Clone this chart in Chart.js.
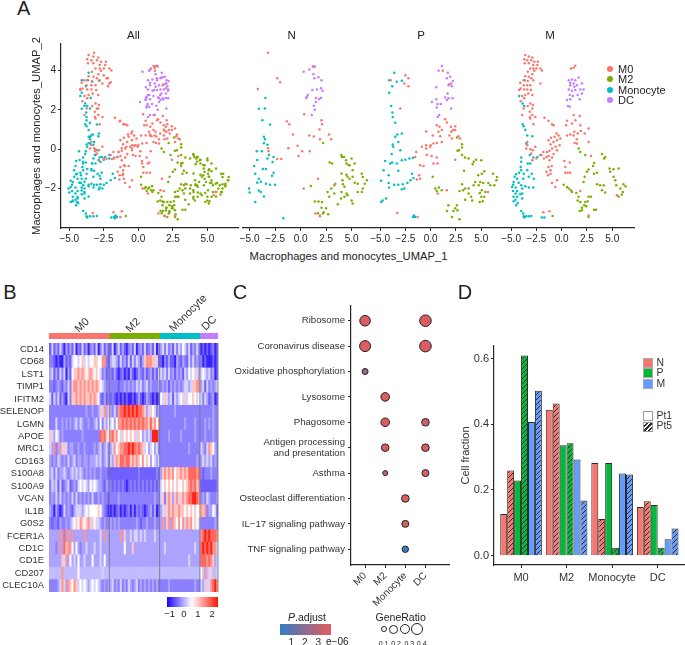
<!DOCTYPE html>
<html lang="en">
<head>
<meta charset="UTF-8">
<title>Macrophages and monocytes</title>
<script src="https://cdn.jsdelivr.net/npm/chart.js"></script>
<style>
  html, body { margin: 0; padding: 0; background: #fff; }
  #page { position: relative; width: 685px; height: 645px; overflow: hidden; font-family: "Liberation Sans", Arial, sans-serif; color: #222; }
  canvas { position: absolute; }
  .lbl { position: absolute; white-space: nowrap; line-height: 1; transform: translate(-50%, -50%); }
  .box { position: absolute; box-sizing: border-box; }
</style>
</head>
<body>
<div id="page"></div>
<script>
// --- Panel A: UMAP points per sample and cluster ---
const nM0 = [[-3.2,4.9],[-2.3,3.6],[-2,3.4],[-4.2,3.05],[-1.35,1.42],[-1.1,1.27],[-.75,.75],[-1.2,.05],[-.3,.17],[.15,-.1],[-.2,-.35],[.9,-.1],[-3.15,-.1],[-3.2,.05],[-2.3,-.5],[-1.9,-.5],[.3,-2],[.35,1.78],[2.05,1.47],[1.85,1],[1.9,.5],[.85,.7],[1.3,.65],[2.8,.75],[3,.5],[2.1,1.27],[1.25,4.2],[1.45,-3.27],[1.9,-3.37],[3.4,-1.76],[1.7,-1.5],[1.9,-3.4]];
const nM2 = [[2.2,.32],[1,-1.87],[2.85,-.68],[3.1,-.73],[4,-.3],[4.25,-.4],[4.5,-.73],[4.7,-.8],[4,-1.23],[4.5,-1.3],[4.8,-1.5],[4.15,-1.78],[4.3,-1.9],[3.3,-1.83],[3,-2],[2.65,-2.17],[2.8,-2.42],[3.3,-2.25],[4,-2.17],[4.5,-2.25],[3.65,-2.8],[4.3,-2.42],[1.4,-2.65],[1.75,-2.65],[2.1,-2.68],[2.05,-2.97],[2.5,-3],[2.25,-3.2],[2.7,-3.3],[1.7,-3.25],[2.2,-3.27],[4.05,-.39],[4.45,-.56],[5,-.47],[5.3,-.73],[4.8,-.81],[5.1,-1.07],[6,-1.24],[6.1,-1.41],[6.5,-1.58],[6.3,-1.75],[5.6,-1.75],[5.3,-1.7],[5.1,-1.4],[4.6,-1.4],[6.1,-2],[6,-2.17],[5.6,-2.17],[4.6,-2.34],[5,-2.6],[5.1,-2.76],[3.97,-2.5],[4.1,-1.58]];
const nMono = [[-3.45,2.6],[-4.1,2.05],[-3.5,2.07],[-3.75,1.47],[-3,1.25],[-3.6,.63],[-3.5,.5],[-3.6,.3],[-3.25,.23],[-4.3,-.1],[-3.8,-.1],[-3.1,-.3],[-2.65,-.4],[-3.25,-.47],[-2.75,-.65],[-4.55,-.85],[-4.25,-.55],[-3.7,-1],[-3.4,-1],[-4.45,-1.25],[-2.65,-1.2],[-2.8,-1.35],[-4.1,-1.5],[-4.25,-1.7],[-3.9,-1.65],[-3.4,-1.75],[-2.5,-1.8],[-5.05,-2],[-5,-2.2],[-4.1,-2.1],[-3.9,-2.17],[-3.6,-2.4],[-4.45,-2.68],[-1.7,-3.5],[-3,-1.8]];
const nDC = [[.3,3.93],[.85,4.05],[1.2,4.2],[1.4,4.2],[1.25,3.8],[1.35,3.6],[1.75,3.65],[2.05,3.5],[1.15,3],[1.6,3.03],[2,3.1],[2.15,2.97],[.7,2.75],[.55,2.6],[1.5,2.6],[1.8,2.55],[2,2.6],[1.5,2.4],[1.3,2.2],[1.4,2],[1.1,1.73],[.6,2.65]];

const pM0 = [[-2.5,3.76],[-3.95,3.5],[-2.2,3.6],[-2.6,3.34],[-2.2,3.2],[-3,2.07],[-3.3,-3.24],[-1.3,-3.44],[-.45,.9],[.2,.7],[.6,1.22],[.87,1.14],[1.43,1.52],[1.6,1.36],[1.1,.97],[.77,.88],[.95,.66],[.6,.32],[.28,.29],[0,.2],[1.1,.37],[2,1.14],[2.43,1.17],[2.2,.97],[1.85,.7],[2.1,.54],[2.43,.97],[2.75,.66],[2.9,.54],[2.03,.88],[-.45,.2],[-.87,.12],[-.45,.03],[-.05,.12],[-1.53,-.39],[-1.43,-.14],[-.38,-.3],[.1,-.34],[.6,-.42],[.68,-.73],[.28,-.73],[2.43,-.53],[-1.04,-.81],[-.7,-.85],[-1.14,-1.32],[-1.04,-1.5],[-1.37,-1.54],[1.2,3.98],[1.83,3.3],[1.6,-2.08],[.7,-2.25],[5.66,-2.17]];
const pM2 = [[2.6,.59],[3.1,.25],[3.1,.08],[2.65,-.08],[2.8,-.05],[3.1,-.3],[3.4,-.42],[3.75,-.47],[4.5,-.53],[5,-.56],[4.25,-.64],[4.15,-.76],[3.3,-1.1],[4.7,-1.32],[5.3,-1.12],[5.05,-1.24],[6.15,-1.24],[6.55,-1.41],[6.5,-1.58],[4.4,-1.66],[4.9,-1.66],[5.2,-1.71],[5.7,-1.71],[4.25,-1.83],[4.75,-1.83],[5.9,-1.83],[6.3,-1.83],[3.1,-1.78],[3.4,-2],[3.75,-2],[2.85,-2.12],[3.2,-2.08],[3.75,-2.25],[4,-2.42],[3.4,-2.56],[4.1,-2.6],[4.85,-2.22],[5.05,-2.08],[5.4,-2.17],[5,-2.42],[5.3,-2.42],[4.85,-2.68],[5.15,-2.64],[.45,-2],[.8,-1.95],[1.1,-2.08],[.2,-1.4],[.6,-2.12],[1.75,-2.85],[2.6,-2.85],[2.43,-3],[2.65,-3.1],[2.25,-3.14],[1.6,-3.14],[2.85,-3.56],[2.1,-3.44]];
const pMono = [[-3.6,3.88],[-4.1,3.5],[-3.8,3.2],[-3.35,3.42],[-2.85,3.47],[-4.1,2.86],[-3.9,2.19],[-3.78,1.86],[-3.75,1.64],[-3.5,1.34],[-3.5,.63],[-3.3,.75],[-2.85,.8],[-3.75,.24],[-3.7,.12],[-3.2,.37],[-3,-.05],[-3.85,-.25],[-4,-.73],[-3.8,-.68],[-4.5,-.6],[-3.35,-.73],[-2.85,-.56],[-2.5,-.53],[-1.75,-.44],[-2.1,-.47],[-4.65,-1.07],[-4.15,-1.32],[-3.2,-1.1],[-4.9,-1.6],[-4.15,-1.71],[-4.1,-1.95],[-3.6,-1.8],[-3.2,-1.8],[-2.75,-1.78],[-2.85,-2.03],[-2.6,-2],[-2.3,-1.71],[-2,-1.58],[-1.7,-1.46],[-1.85,-1.24],[-4.4,-2.5],[-4.75,-2.6],[-4.9,-2.68],[-1.65,-3.36],[-1.75,-3.44],[-1.55,-3.44]];
const pDC = [[.78,3.98],[1.1,4.22],[1.7,3.88],[1.93,3.68],[1.6,3.6],[2.2,3.46],[2.03,3.34],[1.77,3.25],[2.1,3.2],[.55,3.14],[1.67,2.83],[1.43,2.63],[1.77,2.58],[2.16,2.58],[1.6,2.5],[.12,2.4],[.55,2.53],[.68,2.29],[1,2.29],[.6,2.12],[2.03,2.07],[.84,1.73],[.7,1.64]];

const mM0 = [[-3.6,4.78],[-3.25,4.7],[-2.9,4.66],[-3.7,4.56],[-3.4,4.52],[-3,4.52],[-2.7,4.44],[-2.35,4.44],[-3.65,4.36],[-3.25,4.36],[-2.8,4.27],[-2.4,4.27],[-2.1,4.1],[-1.95,4],[-2.5,4.1],[-2.8,4.1],[-3.1,4.1],[-2.7,3.98],[-3.35,3.93],[-2.9,3.8],[-3.25,3.68],[-3.6,3.7],[-3,3.6],[-2.8,3.5],[-3.75,3.5],[-3.35,3.46],[-4.1,3.37],[-3.75,3.25],[-3.4,3.25],[-3.1,3.25],[-2.1,3.34],[-4.05,3.08],[-3.7,3.03],[-3.4,3.03],[-3.05,3],[-4.2,3],[-3.3,2.83],[-3.6,2.75],[-2.9,2.75],[-3.9,2.7],[-4.05,2.44],[-3.7,2.58],[-3.1,2.32],[-2.85,2.24],[-3.35,2.19],[-2.9,2.07],[-3.75,2.07],[-3.15,1.9],[-2.9,1.73],[-2.6,1.64],[-3.9,1.73],[-3.1,1.56],[-2.8,1.27],[-3.15,1.64],
  [-1.7,1.6],[-1.3,1.44],[-.95,1.27],[-.8,1.22],[-.5,.8],[-.3,.7],[-.7,.63],[-1.05,.58],[-1.3,.46],[-.13,.54],[-.46,.46],[-.8,.37],[-1.1,.25],[-.2,.2],[-.6,.12],[-.95,.03],[-.46,-.05],[-1.2,-.08],[-1.45,-.14],[-1.8,-.14],[-2,-.3],[-.8,-.25],[-1.3,-.34],[-1.5,-.4],[-.95,-.42],[-1.2,-.56],[-1.75,-.47],[-.98,-.85],[-1.3,-.9],[-1.1,-1.07],[-1.5,-1.15],[-1.35,-1.32],[-.46,-1.58],[-.95,-1.71],[-.63,-1.92],[-1.1,-1.24],
  [.53,1.44],[1.18,1.73],[1.78,1.68],[1.35,1.47],[.43,1.22],[1.02,1.3],[1.84,1.22],[2.66,1.05],[1.9,.93],[1.25,.88],[1.58,.8],[.53,.7],[1.18,.7],[2.27,.8],[1.5,.5],[1.28,.32],[2.66,.37],[1.5,.29],[.85,.75],[2.9,-.34],[.26,-.6],[.8,-.68],[.36,-.9],[.6,-1.2],[.85,-1.2],[.36,-1.2],[.92,4.1],[1.18,4.13],[1.35,4.24],[-3.4,.2],[-3.5,.03],[-3.1,0],[-2.6,.12],[-2.85,-.05],[-3,-.22],[-2.5,-.47],[-2.9,-.56],[-3.4,.37],[-1.8,-3.2],[-1.2,-3.15],[2.66,-3.36],[1.84,-2.12],[5.46,-2.34]];
const mM2 = [[1.68,.03],[2.33,-.3],[1.84,-.14],[3.98,-.25],[4.3,-.39],[4.2,-.47],[3.2,-.7],[3.1,-.85],[2.66,-1.03],[2.5,-1.15],[3.2,-1.24],[3.5,-1.2],[2.27,-1.4],[2.17,-1.66],[4.74,-.98],[5.13,-1.02],[5.63,-.98],[4.8,-1.15],[5.13,-1.4],[5.3,-1.58],[6.1,-1.78],[6.3,-1.88],[3.5,-1.78],[3.8,-1.83],[4.15,-1.83],[3.98,-2.08],[4.3,-2.2],[5.4,-1.83],[5.8,-2],[6.05,-2.17],[5.95,-2.3],[5.63,-2.4],[.2,-1.8],[.53,-1.92],[.7,-2],[.92,-2.08],[1.02,-2.17],[1.45,-2.22],[1.68,-2.42],[1.58,-2.6],[1.84,-2.68],[2.33,-2.68],[2.57,-2.64],[2.24,-2.85],[2.43,-2.9],[2,-2.97],[1.78,-3.14],[2,-3.1],[3.2,-3.07],[3.4,-3.07],[2.66,-3.44],[-.9,-3.39],[2.66,-2.42],[2.9,-2.42]];
const mMono = [[-3.65,3.5],[-4.2,2.7],[-3.85,2.32],[-3.7,2.19],[-3.85,1.27],[-3.75,1.17],[-3.6,.97],[-3.4,.7],[-2.9,.66],[-3.5,.29],[-4,-.42],[-4,-.64],[-3.15,-.3],[-2.8,-.42],[-2.4,-.39],[-2.1,-.3],[-3.35,-.73],[-3.1,-.73],[-4.05,-.9],[-4,-1.07],[-4.2,-1.2],[-4.5,-1.27],[-4.65,-1.4],[-4.4,-1.5],[-4.75,-1.66],[-4.25,-1.7],[-4.9,-1.92],[-4.55,-1.95],[-4.8,-2.12],[-4.4,-2.12],[-3.9,-2],[-3.6,-1.88],[-3.25,-1.95],[-2.8,-1.95],[-2.75,-1.5],[-3.25,-1.4],[-2.95,-1.24],[-3.4,-1.07],[-3.75,-1.24],[-3.8,-1.5],[-4,-1.83],[-4.55,-2.25],[-4.75,-2.42],[-4.4,-2.42],[-4.1,-2.29],[-4.55,-2.56],[-4.35,-2.73],[-4.5,-2.85],[-4.75,-2.64],[-3.9,-2.25],[-4,-3.14],[-3.8,-3.27],[-3.75,-3.4],[-3.5,-3.4],[-3.25,-3.4],[-3,-3.39],[-3.7,-3.47],[-1.95,-3.47],[-1.7,-3.47],[-4.8,-1.8],[-3.9,-2.5]];
const mDC = [[.7,3.5],[1.02,3.54],[1.35,3.5],[1.68,3.64],[.85,3.37],[1.18,3.34],[1.5,3.25],[2,3.34],[.7,3.03],[1.02,2.97],[1.35,3],[1.84,3.03],[2.17,3.03],[.8,2.75],[1.1,2.7],[1.58,2.75],[2,2.83],[.53,2.5],[.85,2.53],[1.78,2.54],[.62,2.19],[.8,2.15],[.85,3.25],[1.25,3.17]];

const clusterNames = ['M0', 'M2', 'Monocyte', 'DC'];
const clusterColors = ['#F8766D', '#7CAE00', '#00BFC4', '#C77CFF'];
const umapTicksY = [-2, 0, 2, 4];

// --- Panel B: heatmap, one string per gene, one digit per column group ---
const genes = ['CD14','CD68','LST1','TIMP1','IFITM2','SELENOP','LGMN','APOE','MRC1','CD163','S100A8','S100A9','VCAN','IL1B','G0S2','FCER1A','CD1C','CD1E','CD207','CLEC10A'];
const heatLevels = { 0:-.95, 1:-.55, 2:-.32, 3:-.08, a:.08, 4:.25, 5:.55, 6:1.0, 7:1.4, 8:1.75, 9:2.3 };
const groupSizes = [30, 25, 20, 9];
const heatRows = [
  '1413142031 3140214130 2314024131 1402413102 3140231412 31402 3424231424 3542413242 010101201',
  '2210100312 1455456454 5566557721 3443142314 1424313677 76641 1021311032 1321424232 201000101',
  '3413142403 1566767656 7656542312 2131012010 3101321312 31314 4342423132 3143545463 454342301',
  '2212321324 2677676767 6767654322 2222122323 2324342342 32223 2323132323 2344346677 341423234',
  '4142413104 2667676766 7676521312 1210101010 0101310132 10101 5464341434 5464556545 424312301',
  '2222222222 2222222232 2322364736 3242788989 8989887634 65423 2222222322 2222222222 222222322',
  '2224223232 3234243223 2234252435 4535778787 8787878776 86757 2222222222 2232222322 223232322',
  '6435423222 2222223222 2222287865 7867546565 6564653434 39992 2222322222 3222222322 223222322',
  '4372374642 3322322322 2232342342 3475677889 8987876453 45342 2222222222 2222322222 432476532',
  '3232432324 2342332332 3334342342 4367688788 6767657565 35434 2222222222 2222222232 343434232',
  '3424233432 3434343232 3232232221 1111111111 1111211111 11121 3676767566 7676888878 212223222',
  '2434141234 1232454543 5454332132 2121212101 2121212121 21212 4565656565 5656787867 111111112',
  '2324242323 2424232323 2422323221 2222322222 2222222222 22322 4626763674 6767889987 232432223',
  '3203101423 2134443454 5555653210 0101201012 0202121012 31301 3464767667 6656565655 767233541',
  '2122132232 3456576567 4654432322 3232322222 2223212232 22322 3736737657 5747675654 222222232',
  '3333373837 3733333733 3333343733 3333373633 4344343433 33433 3333333333 3333333333 789898887',
  '3332373867 7535323343 3343343333 3333333533 3633333333 33333 3343333333 3333333433 898989774',
  '3333336473 5343533433 3533343533 3333333333 3333333333 33333 3333333333 3333433333 888787634',
  'aaaaaa7aaa aaaa5aaaaa aaaaaa4aaa aaaaaaaaaa aaaaaaaaaa aaaaa aaaaaaaaaa aaaaaaaaaa 5a7a46aa4',
  '2222347637 6576454543 4545432323 3423242324 3234232323 23232 2222322222 2222222322 434647897'
];
const heatTicks = [-1, 0, 1, 2];

// --- Panel C: pathway dot plot ---
const terms = ['Ribosome','Coronavirus disease','Oxidative phosphorylation','Lysosome','Phagosome',['Antigen processing','and presentation'],'Asthma','Osteoclast differentiation','IL\u221217 signaling pathway','TNF signaling pathway'];
const dotTerm    = [0, 0, 1, 1, 2, 3, 4, 4, 5, 5, 6, 6, 7, 8, 9];
const dotCluster = [0, 3, 0, 3, 0, 1, 1, 3, 1, 3, 1, 3, 2, 2, 2];
const dotRatio   = [.33, .38, .35, .38, .1, .23, .23, .18, .18, .18, .05, .15, .18, .15, .12];
const dotPadjust = [3.8, 3.8, 3.8, 3.8, 2.4, 3.7, 3.7, 3.6, 3.7, 3.7, 3.5, 3.7, 3.7, 3.6, .3];
const ratioLegend = [.1, .2, .3, .4];

// --- Panel D: cell fractions ---
const fractionCats = ['M0', 'M2', 'Monocyte', 'DC'];
const fracNPt1 = [.127, .444, .282, .148];
const fracNPt5 = [.259, .463, .112, .166];
const fracPPt1 = [.229, .336, .282, .154];
const fracPPt5 = [.609, .342, .024, .024];
const fracMPt1 = [.407, .293, .250, .050];
const fracMPt5 = [.502, .168, .247, .083];
const sampleColors = ['#F8766D', '#00BA38', '#619CFF'];

Chart.defaults.font.family = '"Liberation Sans", Arial, sans-serif';
Chart.defaults.animation = false;
Chart.defaults.responsive = false;
Chart.defaults.plugins.legend.display = false;
Chart.defaults.plugins.tooltip.enabled = false;

const page = document.getElementById('page');
const INK = '#262626';

function label(text, x, y, size, extra) {
  const d = document.createElement('div');
  d.className = 'lbl';
  d.innerHTML = text;
  d.style.left = x + 'px';
  d.style.top = y + 'px';
  d.style.fontSize = size + 'px';
  if (extra) Object.assign(d.style, extra);
  page.appendChild(d);
  return d;
}

function box(x, y, w, h, style) {
  const d = document.createElement('div');
  d.className = 'box';
  d.style.left = x + 'px';
  d.style.top = y + 'px';
  d.style.width = w + 'px';
  d.style.height = h + 'px';
  Object.assign(d.style, style);
  page.appendChild(d);
}

// put a chart so its plot area lands on a given rectangle of the page
function mount(area, m, config) {
  const c = document.createElement('canvas');
  const w = Math.round(area.r - area.l + m.l + m.r);
  const h = Math.round(area.b - area.t + m.t + m.b);
  c.width = w;
  c.height = h;
  c.style.left = (area.l - m.l) + 'px';
  c.style.top = (area.t - m.t) + 'px';
  page.appendChild(c);
  const sc = config.options.scales;
  const yShown = sc.y.display !== false;
  const xShown = sc.x.display !== false;
  if (yShown) sc.y.afterFit = s => { s.width = m.l; };
  if (xShown) sc.x.afterFit = s => { s.height = m.b; };
  config.options.layout = { padding: { left: yShown ? 0 : m.l, right: m.r, top: m.t, bottom: xShown ? 0 : m.b } };
  return new Chart(c, config);
}

function axisBase(size) {
  return {
    border: { display: true, color: INK, width: 1.2 },
    grid: { drawOnChartArea: false, drawTicks: true, tickLength: 3, tickColor: INK, tickWidth: 1 },
    ticks: { color: INK, font: { size: size }, padding: 2, autoSkip: false, maxRotation: 0, minRotation: 0, includeBounds: false }
  };
}

const fmtMinus = v => String(v).replace('-', '\u2212');

// --- Panel A ---
function umapPanel(area, xMin, xMax, sets, showY) {
  const xAxis = axisBase(10);
  xAxis.min = xMin;
  xAxis.max = xMax;
  xAxis.afterBuildTicks = s => { s.ticks = [-5, -2.5, 0, 2.5, 5].map(v => ({ value: v })); };
  xAxis.ticks.callback = v => fmtMinus(v.toFixed(1));
  xAxis.type = 'linear';
  const yAxis = axisBase(10);
  yAxis.type = 'linear';
  yAxis.min = -4;
  yAxis.max = 5.34;
  if (showY) {
    yAxis.afterBuildTicks = s => { s.ticks = umapTicksY.map(v => ({ value: v })); };
    yAxis.ticks.callback = v => fmtMinus(v);
    yAxis.title = { display: true, text: 'Macrophages and monocytes_UMAP_2', color: INK, font: { size: 11.2 }, padding: 0 };
  } else {
    yAxis.display = false;
  }
  mount(area, { l: showY ? 31 : 14, r: 14, t: 14, b: 22 }, {
    type: 'scatter',
    data: { datasets: sets.map((pts, i) => ({
      data: pts.map(p => ({ x: p[0], y: p[1] })),
      backgroundColor: clusterColors[i],
      pointRadius: 1.25,
      pointBorderWidth: 0
    })) },
    options: { scales: { x: xAxis, y: yAxis } }
  });
}

const allM0 = nM0.concat(pM0, mM0);
const allM2 = nM2.concat(pM2, mM2);
const allMono = nMono.concat(pMono, mMono);
const allDC = nDC.concat(pDC, mDC);

umapPanel({ l: 61, r: 238, t: 44, b: 227.7 }, -5.6, 7.22, [allM0, allM2, allMono, allDC], true);
umapPanel({ l: 242.5, r: 372, t: 44, b: 227.7 }, -5.65, 7.1, [nM0, nM2, nMono, nDC], false);
umapPanel({ l: 374, r: 502.7, t: 44, b: 227.7 }, -5.6, 7.15, [pM0, pM2, pMono, pDC], false);
umapPanel({ l: 505, r: 634, t: 44, b: 227.7 }, -5.6, 7.15, [mM0, mM2, mMono, mDC], false);

label('A', 23.7, 8, 20);
label('All', 133.5, 36, 11.5);
label('N', 291.7, 36, 11.5);
label('P', 421, 36, 11.5);
label('M', 550, 36, 11.5);
label('Macrophages and monocytes_UMAP_1', 348.5, 256.5, 11.2);

clusterNames.forEach((n, i) => {
  const y = 69 + i * 10.4;
  box(607, y - 3, 6, 6, { background: clusterColors[i], borderRadius: '50%' });
  label(n, 618, y, 11, { transform: 'translate(0,-50%)' });
});

// --- Panel B ---
const BLUE = [24, 0, 255], WHITE = [255, 255, 255], RED = [255, 16, 0];
function heatColor(v) {
  let a = BLUE, b = WHITE, t = (v + 1.2) / 1.75;
  if (v > .55) { a = WHITE; b = RED; t = (v - .55) / 1.9; }
  t = Math.max(0, Math.min(1, t));
  return 'rgb(' + a.map((c, i) => Math.round(c + (b[i] - c) * t)).join(',') + ')';
}

const heatCols = heatRows.map(r => r.replace(/ /g, '').split('').map(ch => heatLevels[ch]));
const nCols = groupSizes.reduce((a, b) => a + b, 0);

const heatDatasets = [];
for (let c = 0; c < nCols; c++) {
  heatDatasets.push({
    data: genes.map(() => 1),
    backgroundColor: heatCols.map(row => heatColor(row[c] === undefined ? -.32 : row[c])),
    barPercentage: 1,
    categoryPercentage: 1,
    borderWidth: 0
  });
}

const groupLines = {
  id: 'groupLines',
  afterDatasetsDraw(chart) {
    const { ctx, chartArea, scales } = chart;
    let sum = 0;
    ctx.save();
    ctx.strokeStyle = 'rgba(120,120,120,.85)';
    ctx.lineWidth = 1;
    groupSizes.forEach(g => {
      sum += g;
      const x = scales.x.getPixelForValue(sum);
      ctx.beginPath();
      ctx.moveTo(x, chartArea.top);
      ctx.lineTo(x, chartArea.bottom);
      ctx.stroke();
    });
    ctx.restore();
  }
};

mount({ l: 49.3, r: 218, t: 342.7, b: 591.7 }, { l: 56, r: 2, t: 14, b: 14 }, {
  type: 'bar',
  data: { labels: genes, datasets: heatDatasets },
  options: {
    indexAxis: 'y',
    scales: {
      x: { display: false, stacked: true, min: 0, max: nCols },
      y: {
        stacked: true,
        border: { display: false },
        grid: { display: false, drawTicks: false },
        ticks: { color: '#333', font: { size: 9.4 }, padding: 5, autoSkip: false }
      }
    }
  },
  plugins: [groupLines]
});

// group bar on top of the heatmap
mount({ l: 49.3, r: 218, t: 332.7, b: 338.3 }, { l: 2, r: 2, t: 1, b: 1 }, {
  type: 'bar',
  data: {
    labels: [''],
    datasets: groupSizes.map((g, i) => ({ data: [g], backgroundColor: clusterColors[i], barPercentage: 1, categoryPercentage: 1, borderWidth: 0 }))
  },
  options: {
    indexAxis: 'y',
    scales: {
      x: { display: false, stacked: true, min: 0, max: nCols },
      y: { display: false, stacked: true }
    }
  }
});

label('B', 10, 291.7, 20);
const rot = { transform: 'translate(-50%,-50%) rotate(-45deg)', color: '#333' };
label('M0', 81.7, 325, 11, rot);
label('M2', 133, 325, 11, rot);
label('Monocyte', 187.7, 313, 11, rot);
label('DC', 209, 323, 11, rot);

// gradient legend bars for B and C
function colorBar(area, min, max, ticks, colorAt, size) {
  mount(area, { l: 8, r: 8, t: 1, b: 14 }, {
    type: 'bar',
    data: {
      labels: [''],
      datasets: [{
        data: [[min, max]],
        barPercentage: 1,
        categoryPercentage: 1,
        borderWidth: 0,
        backgroundColor(ctx) {
          const ca = ctx.chart.chartArea;
          if (!ca) return '#888';
          const g = ctx.chart.ctx.createLinearGradient(ca.left, 0, ca.right, 0);
          for (let i = 0; i <= 20; i++) g.addColorStop(i / 20, colorAt(min + (max - min) * i / 20));
          return g;
        }
      }]
    },
    options: {
      indexAxis: 'y',
      scales: {
        x: {
          type: 'linear',
          min: min,
          max: max,
          border: { display: false },
          grid: { display: false, drawTicks: false },
          afterBuildTicks: s => { s.ticks = ticks.map(v => ({ value: v })); },
          ticks: { color: INK, font: { size: size }, padding: 2, autoSkip: false, maxRotation: 0, callback: v => fmtMinus(v) }
        },
        y: { display: false }
      }
    }
  });
}
colorBar({ l: 167.3, r: 218.3, t: 597.3, b: 607.7 }, -1.19, 2.42, heatTicks, heatColor, 9.5);

// --- Panel C ---
const P_LOW = [52, 125, 196], P_HIGH = [226, 92, 92];
function padjColor(v) {
  const t = Math.max(0, Math.min(1, (v - .16) / (3.95 - .16)));
  return 'rgb(' + P_LOW.map((c, i) => Math.round(c + (P_HIGH[i] - c) * t)).join(',') + ')';
}
const ratioRadius = r => 2 + 10 * r;

const dotX = axisBase(10);
dotX.type = 'linear';
dotX.min = -.7;
dotX.max = 4.18;
dotX.afterBuildTicks = s => { s.ticks = clusterNames.map((n, i) => ({ value: i })); };
dotX.ticks.callback = v => clusterNames[v];
dotX.ticks.maxRotation = 45;
dotX.ticks.minRotation = 45;
dotX.ticks.color = '#333';

const dotY = axisBase(9.6);
dotY.type = 'linear';
dotY.reverse = true;
dotY.min = -.58;
dotY.max = 9.62;
dotY.afterBuildTicks = s => { s.ticks = terms.map((t, i) => ({ value: i })); };
dotY.ticks.callback = v => terms[v];
dotY.ticks.color = '#333';
dotY.ticks.padding = 3;

mount({ l: 351, r: 450, t: 306, b: 565 }, { l: 125, r: 6, t: 14, b: 50 }, {
  type: 'bubble',
  data: { datasets: [{
    data: dotTerm.map((t, i) => ({ x: dotCluster[i], y: t, r: ratioRadius(dotRatio[i]) })),
    backgroundColor: dotPadjust.map(padjColor),
    borderColor: '#222',
    borderWidth: 1
  }] },
  options: { scales: { x: dotX, y: dotY } }
});

label('C', 240, 291.7, 20);
label('<i>P</i>.adjust', 307, 616.7, 10.5);
colorBar({ l: 280, r: 331, t: 624.3, b: 635 }, .16, 3.95, [1, 2, 3], padjColor, 10);
label('e\u221206', 337.3, 641.5, 10);
label('GeneRatio', 400.7, 616.7, 10.5);
const ratioCentres = [383.7, 393.7, 405, 417.3];
const ratioLabels = [383.5, 396, 409.3, 421.7];
ratioLegend.forEach((r, i) => {
  const rad = [3, 4.3, 5, 6][i];
  box(ratioCentres[i] - rad, 629.3 - rad, rad * 2, rad * 2, { border: '1px solid #222', borderRadius: '50%' });
  label(r.toFixed(1), ratioLabels[i], 642.7, 7);
});

// --- Panel D ---
function hatch(color) {
  const t = document.createElement('canvas');
  t.width = 5;
  t.height = 5;
  const g = t.getContext('2d');
  g.fillStyle = color;
  g.fillRect(0, 0, 5, 5);
  g.strokeStyle = '#2b2b2b';
  g.lineWidth = 1;
  [[-1, 1, 1, -1], [0, 5, 5, 0], [4, 6, 6, 4]].forEach(s => {
    g.beginPath();
    g.moveTo(s[0], s[1]);
    g.lineTo(s[2], s[3]);
    g.stroke();
  });
  return g.createPattern(t, 'repeat');
}

function fracSet(values, fill) {
  return {
    data: values.map((v, i) => ({ x: i, y: v })),
    backgroundColor: fill,
    borderColor: '#2b2b2b',
    borderWidth: 1,
    barPercentage: 1,
    categoryPercentage: .914
  };
}

const fracX = axisBase(11);
fracX.type = 'linear';
fracX.offset = false;
fracX.grid.offset = false;
fracX.min = -.594;
fracX.max = 3.6;
fracX.afterBuildTicks = s => { s.ticks = fractionCats.map((n, i) => ({ value: i })); };
fracX.ticks.callback = v => fractionCats[v];
fracX.ticks.color = '#333';
fracX.ticks.padding = 3;

const fracY = axisBase(11);
fracY.type = 'linear';
fracY.min = -.0283;
fracY.max = .638;
fracY.afterBuildTicks = s => { s.ticks = [0, .2, .4, .6].map(v => ({ value: v })); };
fracY.ticks.callback = v => v.toFixed(1);
fracY.ticks.color = '#333';
fracY.title = { display: true, text: 'Cell fraction', color: '#333', font: { size: 11 }, padding: 0 };

mount({ l: 493.7, r: 685, t: 345.7, b: 565 }, { l: 35, r: 14, t: 14, b: 24 }, {
  type: 'bar',
  data: { datasets: [
    fracSet(fracNPt1, sampleColors[0]),
    fracSet(fracNPt5, hatch(sampleColors[0])),
    fracSet(fracPPt1, sampleColors[1]),
    fracSet(fracPPt5, hatch(sampleColors[1])),
    fracSet(fracMPt1, sampleColors[2]),
    fracSet(fracMPt5, hatch(sampleColors[2]))
  ] },
  options: { scales: { x: fracX, y: fracY } }
});

label('D', 465, 291.7, 20);
['N', 'P', 'M'].forEach((n, i) => {
  box(642.7, 357.7 + i * 10.4, 10.8, 10.4, { background: sampleColors[i], border: '1px solid #aaa' });
  label(n, 656.5, 362.9 + i * 10.4, 10.4, { transform: 'translate(0,-50%)', color: '#333' });
});
box(642.7, 410.7, 10.8, 10.8, { background: '#fff', border: '1px solid #999' });
box(642.7, 421.5, 10.8, 10.4, { border: '1px solid #999', background: 'repeating-linear-gradient(135deg,#fff 0,#fff 1.6px,#2b2b2b 1.6px,#2b2b2b 3.2px)' });
label('Pt1', 656.5, 415.7, 10.4, { transform: 'translate(0,-50%)', color: '#333' });
label('Pt5', 656.5, 426, 10.4, { transform: 'translate(0,-50%)', color: '#333' });
</script>
</body>
</html>
